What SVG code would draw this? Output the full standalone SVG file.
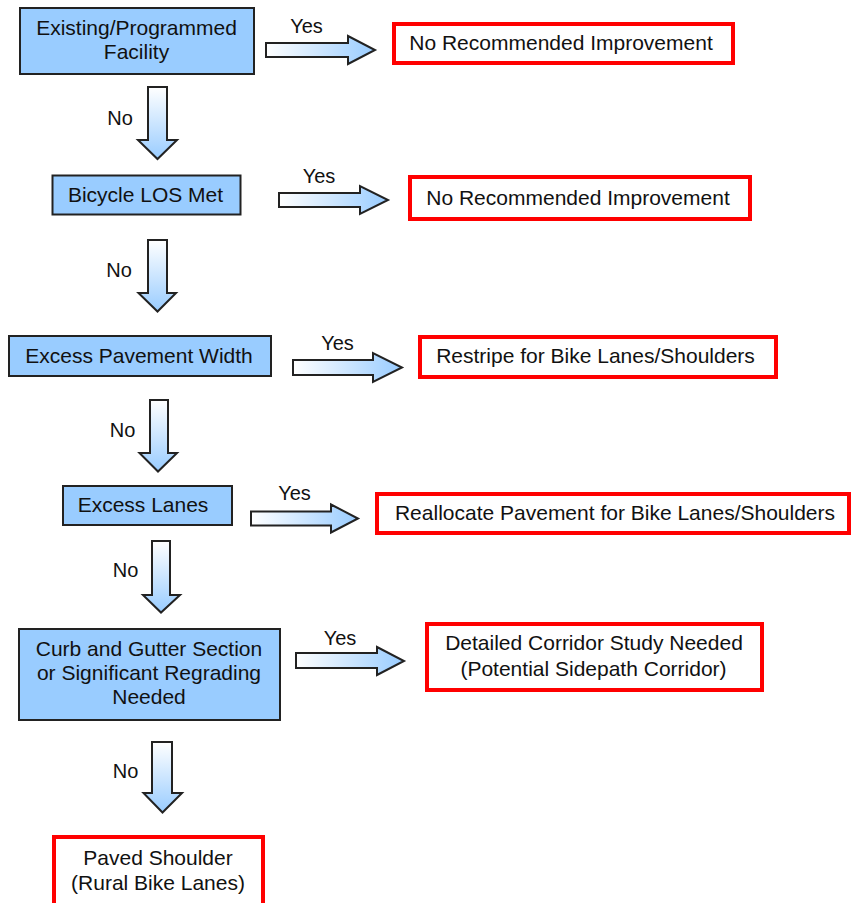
<svg xmlns="http://www.w3.org/2000/svg" width="852" height="903" viewBox="0 0 852 903">
<defs>
<linearGradient id="gh" x1="0" y1="0" x2="1" y2="0">
<stop offset="0" stop-color="#ffffff"/>
<stop offset="1" stop-color="#99ccff"/>
</linearGradient>
<linearGradient id="gv" x1="0" y1="0" x2="0" y2="1">
<stop offset="0" stop-color="#ffffff"/>
<stop offset="1" stop-color="#99ccff"/>
</linearGradient>
</defs>
<style>
text{font-family:"Liberation Sans",Arial,sans-serif;fill:#111;}
.t{font-size:21px;text-anchor:middle;}
.l{font-size:20px;text-anchor:middle;}
.dec{fill:#99ccff;stroke:#222;stroke-width:2;}
.res{fill:#ffffff;stroke:#ff0000;stroke-width:4;}
.ah{fill:url(#gh);stroke:#222;stroke-width:2;stroke-linejoin:miter;}
.av{fill:url(#gv);stroke:#222;stroke-width:2;stroke-linejoin:miter;}
</style>
<rect width="852" height="903" fill="#ffffff"/>
<g id="connectors">
<polygon class="ah" points="266,43 348,43 348,36 375,50 348,64 348,57 266,57"/>
<polygon class="ah" points="279,193 360,193 360,186 388,200 360,214 360,207 279,207"/>
<polygon class="ah" points="293,360 373,360 373,353 402,367.5 373,382 373,375 293,375"/>
<polygon class="ah" points="251,511.5 331,511.5 331,504.5 358,518.5 331,532.5 331,525.5 251,525.5"/>
<polygon class="ah" points="296,653 377,653 377,647 404,661 377,675 377,668 296,668"/>
<polygon class="av" points="148,87 167,87 167,140 177,140 157.5,159 138,140 148,140"/>
<polygon class="av" points="148,240 167,240 167,293 176,293 157.5,311.5 138.5,293 148,293"/>
<polygon class="av" points="150,400 168,400 168,453 177,453 158,471.5 139.5,453 150,453"/>
<polygon class="av" points="152,541 170,541 170,595 180,595 161,612.5 143,595 152,595"/>
<polygon class="av" points="152,742 172,742 172,793 182,793 162.5,812.5 143.5,793 152,793"/>
<text class="l" x="306.5" y="33">Yes</text>
<text class="l" x="319" y="183">Yes</text>
<text class="l" x="337.5" y="350">Yes</text>
<text class="l" x="294.5" y="500">Yes</text>
<text class="l" x="340" y="645">Yes</text>
<text class="l" x="120" y="125">No</text>
<text class="l" x="119" y="277">No</text>
<text class="l" x="122.5" y="437">No</text>
<text class="l" x="125.5" y="577">No</text>
<text class="l" x="125.5" y="778">No</text>
</g>
<g id="n1"><rect class="dec" x="20" y="8" width="234" height="66"/><text class="t" x="136.5" y="35">Existing/Programmed</text><text class="t" x="136.5" y="59">Facility</text></g>
<g id="r1"><rect class="res" x="394" y="24" width="339" height="39"/><text class="t" x="561" y="50">No Recommended Improvement</text></g>
<g id="n2"><rect class="dec" x="52.5" y="175.5" width="188" height="39"/><text class="t" x="145.5" y="202">Bicycle LOS Met</text></g>
<g id="r2"><rect class="res" x="410" y="177" width="340" height="42"/><text class="t" x="578" y="205">No Recommended Improvement</text></g>
<g id="n3"><rect class="dec" x="9" y="336" width="262" height="40"/><text class="t" x="139" y="363">Excess Pavement Width</text></g>
<g id="r3"><rect class="res" x="420" y="337" width="356" height="40"/><text class="t" x="595.5" y="363">Restripe for Bike Lanes/Shoulders</text></g>
<g id="n4"><rect class="dec" x="63" y="486" width="169" height="39"/><text class="t" x="143" y="512">Excess Lanes</text></g>
<g id="r4"><rect class="res" x="377" y="494" width="472" height="39"/><text class="t" x="615" y="520">Reallocate Pavement for Bike Lanes/Shoulders</text></g>
<g id="n5"><rect class="dec" x="19" y="629" width="261" height="91"/><text class="t" x="149" y="656">Curb and Gutter Section</text><text class="t" x="149" y="680">or Significant Regrading</text><text class="t" x="149" y="704">Needed</text></g>
<g id="r5"><rect class="res" x="427" y="624" width="335" height="66"/><text class="t" x="594" y="650">Detailed Corridor Study Needed</text><text class="t" x="593.5" y="676">(Potential Sidepath Corridor)</text></g>
<g id="r6"><rect class="res" x="54" y="837" width="209" height="72"/><text class="t" x="158" y="865">Paved Shoulder</text><text class="t" x="158" y="890">(Rural Bike Lanes)</text></g>
</svg>
